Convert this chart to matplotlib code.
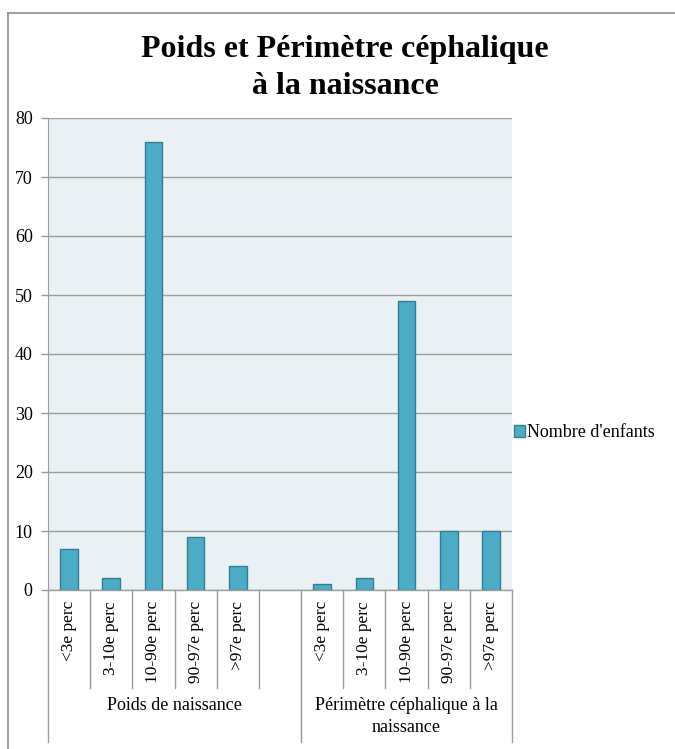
#!/usr/bin/env python3
"""Bar chart of birth weight / head circumference percentile groups"""

import numpy as np
import matplotlib
matplotlib.use('Agg')
import matplotlib.pyplot as plt
from matplotlib.lines import Line2D

TITLE = 'Poids et Périmètre céphalique\nà la naissance'
SERIES_NAME = "Nombre d'enfants"

# inner categories; the blank one closes the first group
CATEGORIES = ['<3e perc', '3-10e perc', '10-90e perc', '90-97e perc', '>97e perc', '',
              '<3e perc', '3-10e perc', '10-90e perc', '90-97e perc', '>97e perc']
VALUES = [7, 2, 76, 9, 4, np.nan, 1, 2, 49, 10, 10]

GROUPS = ['Poids de naissance', 'Périmètre céphalique à la\nnaissance']
GROUP_SIZES = [6, 5]

Y_TICKS = [0, 10, 20, 30, 40, 50, 60, 70, 80]

BAR_COLOR = '#4bacc6'
EDGE_COLOR = '#357d91'
BG_COLOR = '#e9f1f5'
GRID_COLOR = '#9c9c9c'
FONT = 'Liberation Serif'
SIZE = 12.5


def main():
    fig = plt.figure(figsize=(6.75, 7.49), dpi=100)
    axis = fig.add_axes([48 / 675, 1 - 590 / 749, 464 / 675, 472 / 749])

    # outer chart frame (only top and left edges are visible)
    fig.add_artist(Line2D([8 / 675, 8 / 675], [0, 1 - 13 / 749], color='#8c8c8c', lw=1.2))
    fig.add_artist(Line2D([8 / 675, 1], [1 - 13 / 749, 1 - 13 / 749], color='#8c8c8c', lw=1.2))

    xs = np.arange(len(CATEGORIES))
    axis.bar(xs, VALUES, width=0.42, color=BAR_COLOR, edgecolor=EDGE_COLOR, linewidth=1,
             label=SERIES_NAME, zorder=3)

    axis.set_facecolor(BG_COLOR)
    axis.set_xlim(-0.5, len(CATEGORIES) - 0.5)
    axis.set_ylim(Y_TICKS[0], Y_TICKS[-1])
    axis.set_yticks(Y_TICKS)
    axis.set_yticklabels([str(t) for t in Y_TICKS], fontfamily=FONT, fontsize=SIZE + 0.5)
    axis.yaxis.grid(True, color=GRID_COLOR, linewidth=1, zorder=1)
    axis.tick_params(axis='y', length=5, width=1, color=GRID_COLOR, pad=6)

    for side in ('top', 'right', 'bottom'):
        axis.spines[side].set_visible(False)
    axis.spines['left'].set_color(GRID_COLOR)

    axis.set_xticks(xs)
    axis.set_xticklabels(CATEGORIES, rotation=90, va='top', ha='center',
                         fontfamily=FONT, fontsize=SIZE)
    axis.tick_params(axis='x', length=0, pad=8)

    # multi-level category axis separators
    trans = axis.get_xaxis_transform()
    inner_depth = -98 / 472
    outer_depth = -152 / 472
    axis.plot([-0.5, len(CATEGORIES) - 0.5], [0, 0], transform=trans, color=GRID_COLOR,
              lw=1, clip_on=False, zorder=4)
    bounds = np.cumsum([0] + GROUP_SIZES) - 0.5
    for x in np.arange(len(CATEGORIES) + 1) - 0.5:
        depth = outer_depth if x in bounds else inner_depth
        axis.plot([x, x], [0, depth], transform=trans, color=GRID_COLOR, lw=1, clip_on=False)

    for name, start, stop in zip(GROUPS, bounds[:-1], bounds[1:]):
        axis.text((start + stop) / 2, -107 / 472, name, transform=trans, ha='center',
                  va='top', fontfamily=FONT, fontsize=SIZE + 0.5, linespacing=1.35)

    fig.text(345 / 675, 1 - 68 / 749, TITLE, ha='center', va='center', fontfamily=FONT,
             fontweight='bold', fontsize=23, linespacing=1.35)

    axis.legend(loc='center left', bbox_to_anchor=(1.0, 0.333), frameon=False,
                borderaxespad=0.0, borderpad=0.1, prop={'family': FONT, 'size': SIZE + 0.5},
                handlelength=0.6, handleheight=0.6, handletextpad=0.15)

    fig.savefig('out.png', dpi=100)


if __name__ == '__main__':
    main()
